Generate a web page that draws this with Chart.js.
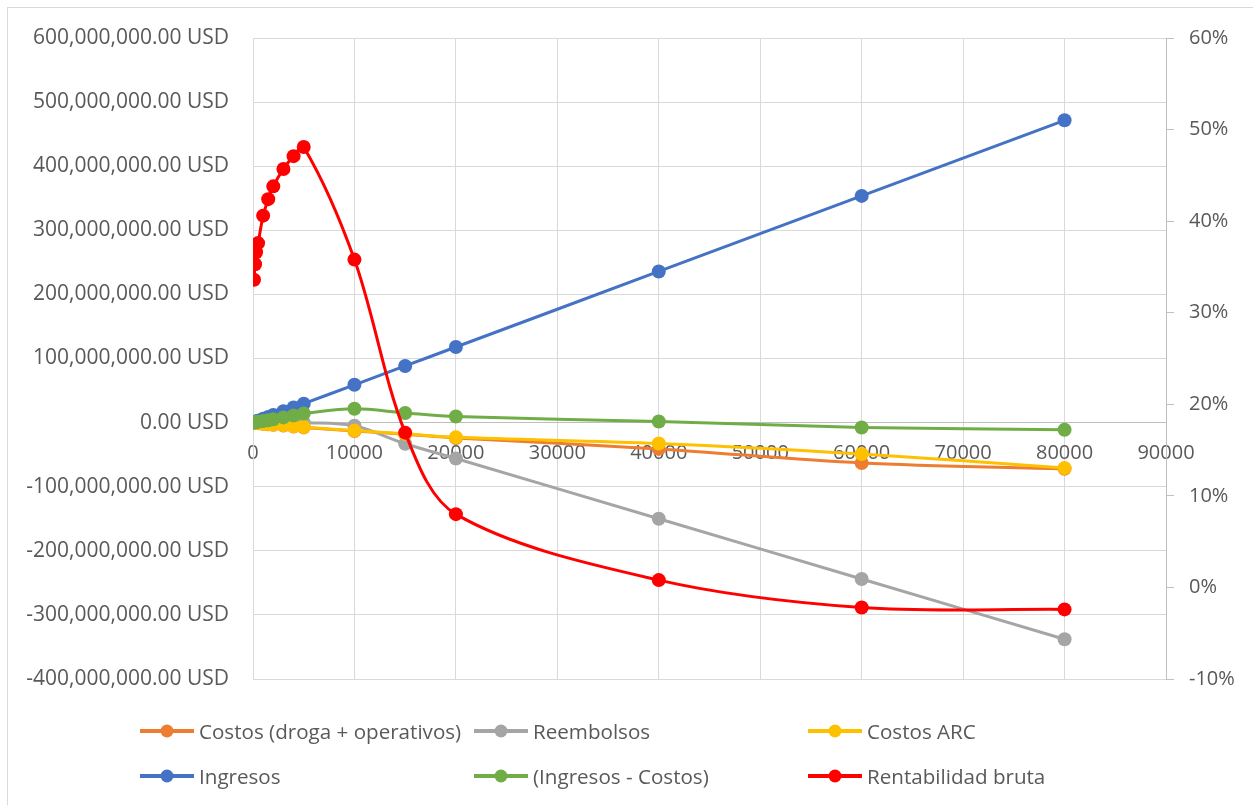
<!DOCTYPE html>
<html lang="es">
<head>
<meta charset="utf-8">
<title>Ingresos, costos y rentabilidad bruta</title>
<script src="https://cdn.jsdelivr.net/npm/chart.js@4.4.1/dist/chart.umd.min.js"></script>
<style>
  html, body { margin: 0; padding: 0; background: #ffffff; }
  body { width: 1253px; height: 805px; position: relative; overflow: hidden; font-family: "Open Sans", sans-serif; }
  #frame { position: absolute; left: 7px; top: 7px; width: 1300px; height: 850px; border: 1px solid #d9d9d9; box-sizing: border-box; }
  #chart { position: absolute; left: 0; top: 0; }
  #legend { position: absolute; left: 140px; top: 708px; display: grid; grid-template-columns: 334px 334px 334px; grid-auto-rows: 45px; }
  .item { display: flex; align-items: center; height: 45px; color: #595959; font-size: 20.6px; white-space: nowrap; }
  .item svg { flex: none; margin-right: 5px; }
</style>
</head>
<body>
<div id="frame"></div>
<canvas id="chart" width="1253" height="805"></canvas>
<div id="legend"></div>
<script>
// Unidades (eje X)
const cantidad = [100, 200, 300, 500, 1000, 1500, 2000, 3000, 4000, 5000, 10000, 15000, 20000, 40000, 60000, 80000];

// Series en millones de USD (eje izquierdo)
const costos      = [-0.3, -0.5, -0.7, -1.1, -1.9, -2.7, -3.4, -4.7, -6.0, -7.5, -13.0, -18.0, -24.0, -41.0, -63.0, -72.0];
const reembolsos  = [0.1, 0.2, 0.3, 0.4, 0.6, 0.7, 0.8, 0.8, 0.6, 0.3, -5.0, -33.0, -56.0, -150.0, -244.0, -338.0];
const costosARC   = [-0.2, -0.4, -0.6, -1.0, -1.7, -2.4, -3.1, -4.3, -5.7, -7.0, -12.5, -17.5, -23.0, -32.5, -49.0, -71.0];
const ingresos    = [0.59, 1.18, 1.77, 2.95, 5.9, 8.84, 11.8, 17.7, 23.6, 29.5, 59.0, 88.4, 117.9, 235.8, 353.7, 471.6];
const margen      = [0.2, 0.42, 0.65, 1.1, 2.4, 3.75, 5.2, 8.1, 11.1, 14.2, 21.5, 15.0, 9.4, 1.8, -7.6, -11.2];

// Rentabilidad bruta en % (eje derecho)
const rentabilidad = [33.6, 35.3, 36.6, 37.6, 40.6, 42.4, 43.8, 45.7, 47.1, 48.1, 35.8, 16.9, 8.0, 0.8, -2.2, -2.4];

// Marcas de los ejes
const ticksX = [0, 10000, 20000, 30000, 40000, 50000, 60000, 70000, 80000, 90000];
const ticksUSD = [-400, -300, -200, -100, 0, 100, 200, 300, 400, 500, 600];
const ticksPct = [-10, 0, 10, 20, 30, 40, 50, 60];

const series = [
  { label: 'Costos (droga + operativos)', data: costos, color: '#ED7D31', axis: 'y' },
  { label: 'Reembolsos', data: reembolsos, color: '#A5A5A5', axis: 'y' },
  { label: 'Costos ARC', data: costosARC, color: '#FFC000', axis: 'y' },
  { label: 'Ingresos', data: ingresos, color: '#4472C4', axis: 'y' },
  { label: '(Ingresos - Costos)', data: margen, color: '#70AD47', axis: 'y' },
  { label: 'Rentabilidad bruta', data: rentabilidad, color: '#FF0000', axis: 'y1' }
];

const textColor = '#595959';
const font = { family: '"Open Sans", sans-serif', size: 20 };
const fontUSD = { family: '"Open Sans", sans-serif', size: 21 };

const datasets = series.map((s, i) => ({
  label: s.label,
  data: cantidad.map((x, j) => ({ x: x, y: s.data[j] })),
  yAxisID: s.axis,
  borderColor: s.color,
  backgroundColor: s.color,
  pointBackgroundColor: s.color,
  pointBorderColor: s.color,
  pointRadius: 7,
  pointBorderWidth: 0,
  borderWidth: 3,
  showLine: true,
  tension: 0.33,
  fill: false,
  order: series.length - i
}));

const fmtUSD = v => (v * 1e6).toLocaleString('en-US', { minimumFractionDigits: 2, maximumFractionDigits: 2 }) + ' USD';

const chart = new Chart(document.getElementById('chart'), {
  type: 'scatter',
  data: { datasets },
  options: {
    responsive: false,
    devicePixelRatio: 1,
    animation: false,
    layout: { padding: { top: 38, bottom: 126, left: 0, right: 0 } },
    plugins: { legend: { display: false }, tooltip: { enabled: false } },
    scales: {
      x: {
        type: 'linear',
        position: { y: 0 },
        min: 0, max: 90000,
        afterBuildTicks: s => { s.ticks = ticksX.map(v => ({ value: v })); },
        ticks: { color: textColor, font, padding: 19, maxRotation: 0, autoSkip: false, callback: v => String(v) },
        grid: { color: '#d9d9d9', lineWidth: 1, drawTicks: false },
        border: { color: '#bfbfbf', width: 1 }
      },
      y: {
        type: 'linear',
        position: 'left',
        min: -400, max: 600,
        afterBuildTicks: s => { s.ticks = ticksUSD.map(v => ({ value: v })); },
        afterFit: s => { s.width = 253; },
        ticks: { color: textColor, font: fontUSD, padding: 24, callback: fmtUSD },
        grid: { color: '#d9d9d9', lineWidth: 1, drawTicks: false },
        border: { color: '#d9d9d9', width: 1 }
      },
      y1: {
        type: 'linear',
        position: 'right',
        min: -10, max: 60,
        afterBuildTicks: s => { s.ticks = ticksPct.map(v => ({ value: v })); },
        afterFit: s => { s.width = 87; },
        ticks: { color: textColor, font, padding: 15, callback: v => v + '%' },
        grid: { drawOnChartArea: false, color: '#bfbfbf', tickLength: 8 },
        border: { color: '#bfbfbf', width: 1 }
      }
    }
  }
});

// Leyenda en tres columnas
const legend = document.getElementById('legend');
chart.data.datasets.forEach(ds => {
  const item = document.createElement('div');
  item.className = 'item';
  const c = ds.borderColor;
  item.innerHTML =
    '<svg width="54" height="16" viewBox="0 0 54 16">' +
    '<line x1="0" y1="8" x2="54" y2="8" stroke="' + c + '" stroke-width="4"/>' +
    '<circle cx="27" cy="8" r="6.5" fill="' + c + '"/></svg>';
  const span = document.createElement('span');
  span.textContent = ds.label;
  item.appendChild(span);
  legend.appendChild(item);
});
</script>
</body>
</html>
